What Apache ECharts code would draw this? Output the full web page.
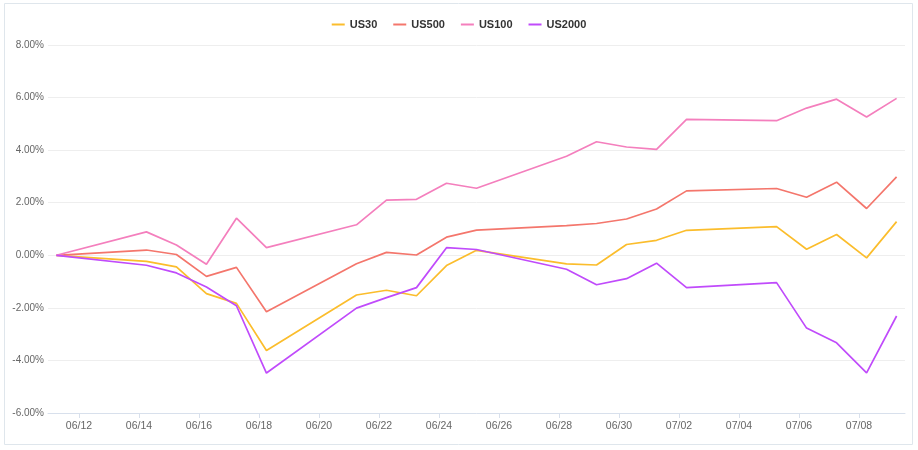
<!DOCTYPE html>
<html>
<head>
<meta charset="utf-8">
<script src="https://cdn.jsdelivr.net/npm/echarts@6/dist/echarts.min.js"></script>
<style>
html,body{margin:0;padding:0;background:#fff;}
#chart{width:918px;height:450px;}
</style>
</head>
<body>
<div id="chart"></div>
<script>
// Trading dates (points sit ~6h after local midnight in the reference)
const dates = ['2021-06-11','2021-06-14','2021-06-15','2021-06-16','2021-06-17','2021-06-18',
  '2021-06-21','2021-06-22','2021-06-23','2021-06-24','2021-06-25',
  '2021-06-28','2021-06-29','2021-06-30','2021-07-01','2021-07-02',
  '2021-07-05','2021-07-06','2021-07-07','2021-07-08','2021-07-09'];
const pointHourOffset = 6;
const seriesNames = ['US30','US500','US100','US2000'];
const us30   = [0,-0.23,-0.44,-1.46,-1.83,-3.62,-1.51,-1.33,-1.54,-0.39,0.19,-0.33,-0.37,0.41,0.57,0.95,1.09,0.23,0.79,-0.10,1.28];
const us500  = [0,0.20,0.03,-0.80,-0.46,-2.15,-0.32,0.11,0.01,0.69,0.96,1.13,1.21,1.38,1.76,2.45,2.54,2.21,2.78,1.78,2.98];
const us100  = [0,0.89,0.39,-0.34,1.41,0.29,1.16,2.10,2.13,2.74,2.55,3.77,4.32,4.12,4.03,5.17,5.12,5.60,5.94,5.26,5.97];
const us2000 = [0,-0.38,-0.67,-1.21,-1.92,-4.48,-2.01,-1.61,-1.23,0.29,0.22,-0.53,-1.12,-0.89,-0.30,-1.23,-1.04,-2.77,-3.33,-4.47,-2.31];
const colors = ['#fbbd2c','#f4766c','#f47fbd','#c04bfb'];
// x tick labels run every 2 days from 06/12 to 07/08
const xTickFirst = '2021-06-12';
const xTickLast = '2021-07-08';
const xTickStepDays = 2;
const yTicks = {min:-6, max:8, interval:2};

const DAY = 86400000;
function ts(d, h){
  const p = d.split('-').map(Number);
  return Date.UTC(p[0], p[1]-1, p[2], h || 0);
}
const xs = dates.map(d => ts(d, pointHourOffset));
const allData = [us30, us500, us100, us2000];

const chart = echarts.init(document.getElementById('chart'));
const font = 'Liberation Sans, Arial, sans-serif';
const axisColor = '#d8e0ec';
chart.setOption({
  animation:false,
  color: colors,
  graphic:[{type:'rect', shape:{x:4.5,y:3.5,width:908,height:441},
    style:{fill:'none', stroke:'#dfe6ec', lineWidth:1}, silent:true}],
  legend:{
    top:14, left:'center', icon:'rect', itemWidth:13, itemHeight:2, itemGap:16,
    textStyle:{fontWeight:'bold', fontSize:11, color:'#333', fontFamily:font},
    data: seriesNames
  },
  grid:[
    {left:48, right:13, top:45, bottom:37, containLabel:false},
    {left:79, right:59, top:45, bottom:37, containLabel:false}
  ],
  xAxis:[
    { // data axis: full plot width, 1% padding around the data range
      gridIndex:0, type:'value',
      min: v => v.min - (v.max - v.min)*0.01,
      max: v => v.max + (v.max - v.min)*0.01,
      splitLine:{show:false},
      axisLine:{onZero:false, lineStyle:{color:axisColor}},
      axisTick:{show:false}, axisLabel:{show:false}
    },
    { // date tick axis: ticks and labels every 2 days
      gridIndex:1, type:'value',
      min: ts(xTickFirst), max: ts(xTickLast), interval: xTickStepDays*DAY,
      splitLine:{show:false},
      axisLine:{show:false, onZero:false},
      axisTick:{show:true, length:5, lineStyle:{color:axisColor}},
      axisLabel:{
        color:'#666', fontSize:10.5, fontFamily:font, margin:8,
        formatter: v => {
          const d = new Date(v);
          const m = String(d.getUTCMonth()+1).padStart(2,'0');
          const dd = String(d.getUTCDate()).padStart(2,'0');
          return m + '/' + dd;
        }
      }
    }
  ],
  yAxis:[
    {
      gridIndex:0, type:'value', min:yTicks.min, max:yTicks.max, interval:yTicks.interval,
      axisLine:{show:false}, axisTick:{show:false},
      splitLine:{lineStyle:{color:'#eeeeee'}},
      axisLabel:{color:'#666', fontSize:10, fontFamily:font, margin:4,
        formatter: v => v.toFixed(2) + '%'}
    },
    {
      gridIndex:1, type:'value', min:yTicks.min, max:yTicks.max, interval:yTicks.interval,
      show:false
    }
  ],
  series: seriesNames.map((n,i) => ({
    name:n, type:'line', symbol:'none', showSymbol:false,
    xAxisIndex:0, yAxisIndex:0,
    lineStyle:{width:1.7},
    data: xs.map((x,j) => [x, allData[i][j]])
  }))
});
</script>
</body>
</html>
